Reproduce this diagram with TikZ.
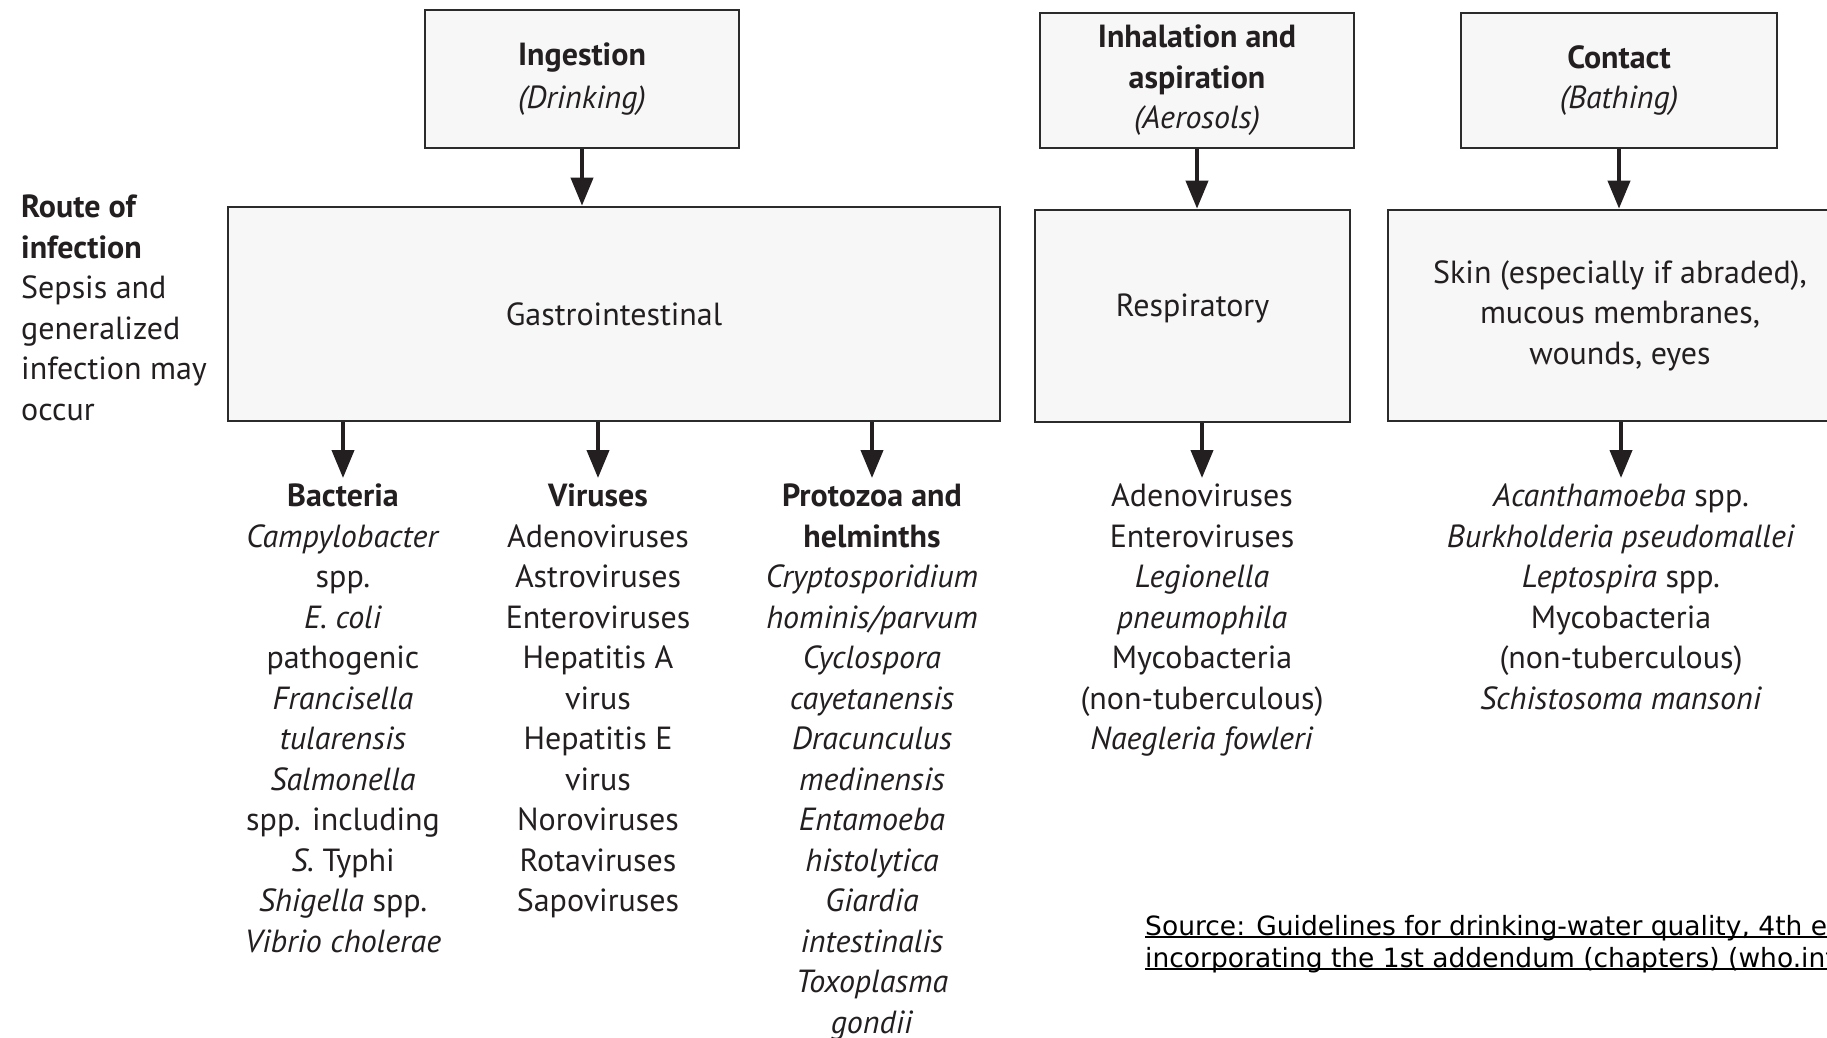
\documentclass[tikz,border=0pt]{standalone}
\usepackage{fontspec}
\setmainfont{PT Sans}
\newfontfamily\srcfont{DejaVu Sans}
\usetikzlibrary{arrows.meta}
\definecolor{ink}{HTML}{231F20}
\definecolor{boxfill}{HTML}{F7F7F7}
\definecolor{boxline}{HTML}{2B2B2B}
\newcommand\mainsz{\fontsize{32}{40.5}\selectfont}
\newcommand\srcsz{\srcfont\fontsize{26.5}{32}\selectfont}
\newcommand\srcul[1]{\setbox0\hbox{#1}\rlap{\rule[-3pt]{\wd0}{2pt}}\box0}
\begin{document}
\begin{tikzpicture}[x=1pt,y=-1pt,
  routebox/.style={draw=boxline, fill=boxfill, line width=2.7pt, inner sep=0pt, align=center, font=\mainsz, text=ink},
  arrowline/.style={draw=ink, line width=4pt, -{Triangle[length=28pt,width=22pt]}},
  listtext/.style={anchor=north, inner sep=0pt, align=center, font=\mainsz, text=ink},
  sidetext/.style={anchor=north west, inner sep=0pt, align=left, font=\mainsz, text=ink},
  sourcetext/.style={anchor=north west, inner sep=0pt, align=left, font=\srcsz, text=black}
]
\useasboundingbox (0,0) rectangle (1827,1037);
\fill[white] (0,0) rectangle (1827,1037);

% top boxes
\node[routebox, minimum width=314pt, minimum height=138pt] (ing) at (582,79)
  {\textbf{Ingestion}\\[2pt]\textit{(Drinking)}};
\node[routebox, minimum width=314pt, minimum height=135pt] (inh) at (1197,80.5)
  {\textbf{Inhalation and}\\\textbf{aspiration}\\\textit{(Aerosols)}};
\node[routebox, minimum width=316pt, minimum height=135pt] (con) at (1619,80.5)
  {\textbf{Contact}\\\textit{(Bathing)}};

% middle boxes
\node[routebox, minimum width=772pt, minimum height=214pt] (gi) at (614,314)
  {Gastrointestinal};
\node[routebox, minimum width=315pt, minimum height=212pt] (resp) at (1192.5,316)
  {Respiratory\\[-19pt]\mbox{}};
\node[routebox, minimum width=464pt, minimum height=211pt] (skin) at (1620,315.5)
  {Skin (especially if abraded),\\mucous membranes,\\wounds, eyes};

% side text
\node[sidetext] (side) at (21,189)
  {\strut\textbf{Route of}\\\textbf{infection}\\Sepsis and\\generalized\\infection may\\occur};

% lists
\node[listtext] (bac) at (343,478)
  {\strut\textbf{Bacteria}\\\textit{Campylobacter}\\spp.\\\textit{E. coli}\\pathogenic\\\textit{Francisella}\\\textit{tularensis}\\\textit{Salmonella}\\spp. including\\\textit{S.} Typhi\\\textit{Shigella} spp.\\\textit{Vibrio cholerae}};
\node[listtext] (vir) at (598,478)
  {\strut\textbf{Viruses}\\Adenoviruses\\Astroviruses\\Enteroviruses\\Hepatitis A\\virus\\Hepatitis E\\virus\\Noroviruses\\Rotaviruses\\Sapoviruses};
\node[listtext] (pro) at (872,478)
  {\strut\textbf{Protozoa and}\\\textbf{helminths}\\\textit{Cryptosporidium}\\\textit{hominis/parvum}\\\textit{Cyclospora}\\\textit{cayetanensis}\\\textit{Dracunculus}\\\textit{medinensis}\\\textit{Entamoeba}\\\textit{histolytica}\\\textit{Giardia}\\\textit{intestinalis}\\\textit{Toxoplasma}\\\textit{gondii}};
\node[listtext] (rl) at (1202,478)
  {\strut Adenoviruses\\Enteroviruses\\\textit{Legionella}\\\textit{pneumophila}\\Mycobacteria\\(non-tuberculous)\\\textit{Naegleria fowleri}};
\node[listtext] (sl) at (1621,478)
  {\strut\textit{Acanthamoeba} spp.\\\textit{Burkholderia pseudomallei}\\\textit{Leptospira} spp.\\Mycobacteria\\(non-tuberculous)\\\textit{Schistosoma mansoni}};

% source
\node[sourcetext] (src) at (1145,912.6)
  {\strut\srcul{Source: Guidelines for drinking-water quality, 4th edition,}\\\srcul{incorporating the 1st addendum (chapters) (who.int)}};

% arrows
\draw[arrowline] (ing.south) -- (ing.south |- gi.north);
\draw[arrowline] (inh.south) -- (inh.south |- resp.north);
\draw[arrowline] (con.south) -- (con.south |- skin.north);
\draw[arrowline] (gi.south -| bac.north) -- (bac.north);
\draw[arrowline] (gi.south -| vir.north) -- (vir.north);
\draw[arrowline] (gi.south -| pro.north) -- (pro.north);
\draw[arrowline] (resp.south -| rl.north) -- (rl.north);
\draw[arrowline] (skin.south -| sl.north) -- (sl.north);
\end{tikzpicture}
\end{document}
